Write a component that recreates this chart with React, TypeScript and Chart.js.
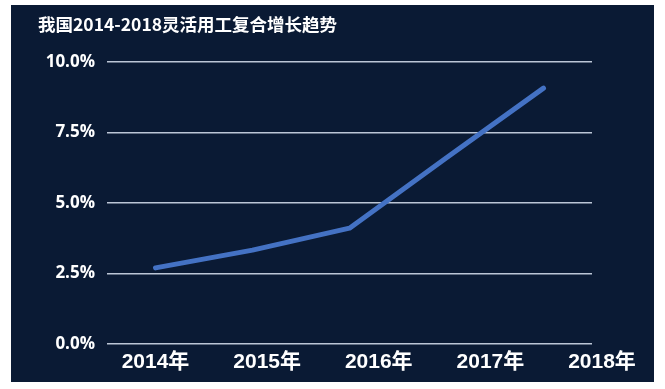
import React, { useEffect, useRef } from 'react';
import { Chart, registerables } from 'chart.js';

Chart.register(...registerables);

const TITLE = '我国2014-2018灵活用工复合增长趋势';
const categories: string[] = ['2014年', '2015年', '2016年', '2017年', '2018年'];
const growthRate: number[] = [2.7, 3.33, 4.11, 6.61, 9.08];
const Y_MIN = 0;
const Y_MAX = 10;
const Y_STEP = 2.5;

const BG = '#0a1a34';
const GRID = '#bcc6d6';
const LINE = '#4472c4';

// Spread the label axis wider than the plot area, as in the reference.
const labelAxisSpread = {
  id: 'labelAxisSpread',
  afterLayout(chart: any) {
    const s = chart.scales.x2;
    const a = chart.chartArea;
    if (!s || !a) return;
    const step = (a.right - a.left) / categories.length;
    s.left = a.left + step / 2;
    s.right = a.right + 10;
    s.width = s.right - s.left;
    s.configure();
  },
};

export default function App() {
  const ref = useRef<HTMLCanvasElement | null>(null);

  useEffect(() => {
    document.body.style.margin = '0';
    const canvas = ref.current;
    if (!canvas) return;
    const chart = new Chart(canvas, {
      type: 'line',
      data: {
        labels: categories,
        datasets: [
          {
            data: growthRate,
            borderColor: LINE,
            backgroundColor: LINE,
            borderWidth: 5,
            borderCapStyle: 'round',
            borderJoinStyle: 'round',
            pointRadius: 0,
            tension: 0,
            fill: false,
          },
        ],
      },
      options: {
        animation: false,
        responsive: false,
        layout: { padding: { left: 27, right: 62, top: 0, bottom: 0 } },
        plugins: {
          legend: { display: false },
          tooltip: { enabled: false },
          title: {
            display: true,
            text: TITLE,
            align: 'start',
            color: '#ffffff',
            font: { family: "'Noto Sans CJK SC', sans-serif", size: 17.5, weight: 'bold', lineHeight: 1.2 },
            padding: { top: 9, bottom: 27.2 },
          },
        },
        scales: {
          x: {
            type: 'category',
            display: false,
            offset: true,
            grid: { display: false },
          },
          x2: {
            type: 'category',
            position: 'bottom',
            offset: false,
            labels: categories,
            grid: { display: false, drawTicks: false },
            border: { display: false },
            ticks: {
              autoSkip: false,
              maxRotation: 0,
              minRotation: 0,
              padding: 6,
              color: '#ffffff',
              font: { family: "'Liberation Sans', 'Noto Sans CJK SC', sans-serif", size: 21, weight: 'bold' },
            },
            afterFit: (scale: any) => {
              scale.height = 38;
            },
          },
          y: {
            min: Y_MIN,
            max: Y_MAX,
            grid: { color: GRID, lineWidth: 1.5, drawTicks: false },
            border: { display: false },
            ticks: {
              stepSize: Y_STEP,
              padding: 12,
              color: '#ffffff',
              font: { family: "'Open Sans', sans-serif", size: 17, weight: 'bold' },
              callback: (v: any) => Number(v).toFixed(1) + '%',
            },
            afterFit: (scale: any) => {
              scale.width = 69;
            },
          },
        },
      },
      plugins: [labelAxisSpread],
    } as any);
    return () => chart.destroy();
  }, []);

  return (
    <div style={{ position: 'relative', width: 665, height: 389, background: '#ffffff' }}>
      <div style={{ position: 'absolute', left: 11, top: 5, width: 643, height: 377, background: BG }}>
        <canvas ref={ref} width={643} height={377} style={{ display: 'block' }} />
      </div>
    </div>
  );
}
